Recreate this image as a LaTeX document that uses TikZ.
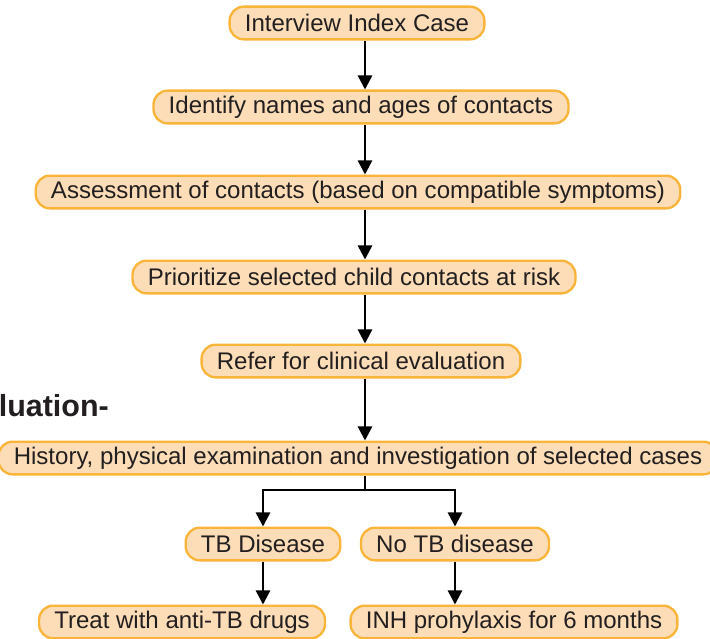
\documentclass[tikz,border=0pt]{standalone}
\usepackage{fontspec}
\setmainfont{Liberation Sans}
\usetikzlibrary{arrows.meta}
\definecolor{boxfill}{HTML}{FDDDB8}
\definecolor{boxline}{HTML}{F9B43A}
\definecolor{txt}{HTML}{231F20}
\tikzset{>={Triangle[width=12pt,length=12pt]}}
\tikzset{stepbox/.style={draw=boxline, fill=boxfill, line width=2pt, rounded corners=12pt,
    minimum height=0.98cm, inner xsep=13pt, text=txt, font=\fontsize{20.5}{24}\selectfont},
  flow/.style={->, line width=2.1pt}}

\begin{document}
\begin{tikzpicture}[x=0.03cm, y=-0.03cm]

  \useasboundingbox (0,0) rectangle (710,638);
  \coordinate (spine) at (365,0);

  % main column
  \node[stepbox] (interview) at (357,23) {Interview Index Case};
  \node[stepbox] (names) at (361,107) {Identify names and ages of contacts};
  \node[stepbox] (assess) at (358,192) {Assessment of contacts (based on compatible symptoms)};
  \node[stepbox] (prioritize) at (354,277) {Prioritize selected child contacts at risk};
  \node[stepbox] (refer) at (361,361) {Refer for clinical evaluation};
  \node[font=\bfseries\fontsize{26}{30}\selectfont, text=txt, anchor=east, inner sep=0pt] (evalnote) at (109,406) {luation-};
  \node[stepbox] (history) at (358,458) {History, physical examination and investigation of selected cases};

  % two branches
  \node[stepbox] (tbdis) at (263,544) {TB Disease};
  \node[stepbox] (notb) at (455,544) {No TB disease};
  \node[stepbox] (treat) at (182,622) {Treat with anti-TB drugs};
  \node[stepbox] (inh) at (514,622) {INH prohylaxis for 6 months};

  \draw[flow] (interview.south -| spine) -- (names.north -| spine);
  \draw[flow] (names.south -| spine) -- (assess.north -| spine);
  \draw[flow] (assess.south -| spine) -- (prioritize.north -| spine);
  \draw[flow] (prioritize.south -| spine) -- (refer.north -| spine);
  \draw[flow] (refer.south -| spine) -- (history.north -| spine);

  \coordinate (fork) at (365,490);
  \draw[line width=2.1pt] (history.south -| spine) -- (fork);
  \draw[flow] (fork) -| (tbdis.north);
  \draw[flow] (fork) -| (notb.north);

  \draw[flow] (tbdis.south) -- (tbdis.south |- treat.north);
  \draw[flow] (notb.south) -- (notb.south |- inh.north);

\end{tikzpicture}
\end{document}
